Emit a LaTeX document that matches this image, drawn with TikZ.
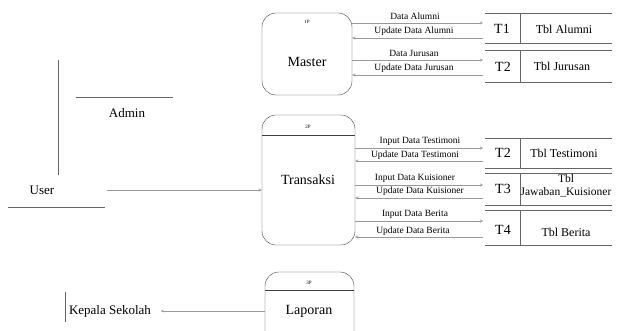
\documentclass[tikz,border=0pt]{standalone}
\usepackage{fontspec}
\setmainfont{Liberation Serif}

\begin{document}
\begin{tikzpicture}[x=1pt,y=-1pt,
  proc/.style={draw=black!75,rounded corners=14pt},
  flow/.style={->,>=stealth,black!40},
  line/.style={black!60},
  pid/.style={font=\fontsize{5}{6}\selectfont},
  ptxt/.style={font=\fontsize{14}{16}\selectfont},
  etxt/.style={font=\fontsize{13}{15}\selectfont},
  small/.style={font=\fontsize{9.5}{11}\selectfont},
  sid/.style={font=\fontsize{14}{16}\selectfont},
  tbl/.style={font=\fontsize{12}{13}\selectfont,align=center}]
  \useasboundingbox (0,0) rectangle (627,331);

  % processes
  \node[proc,minimum width=90pt,minimum height=82pt] (master) at (307,54) {};
  \node[pid] (p1) at (307,22) {1P};
  \node[ptxt] (mastertxt) at (307,62) {Master};

  \node[proc,minimum width=93pt,minimum height=130pt] (transaksi) at (308.5,180) {};
  \draw[black!75] (transaksi.west |- 0,135) -- (transaksi.east |- 0,135);
  \node[pid] (p2) at (308,127) {2P};
  \node[ptxt] (transaksitxt) at (308,180) {Transaksi};

  \node[proc,minimum width=89pt,minimum height=80pt] (laporan) at (309.5,312) {};
  \draw[black!75] (laporan.west |- 0,290) -- (laporan.east |- 0,290);
  \node[pid] (p3) at (309,283) {3P};
  \node[ptxt] (laporantxt) at (309,311) {Laporan};

  % external entities
  \draw[line] (58,60) -- (58,175);
  \draw[line] (76,97) -- (173,97);
  \node[etxt] (admin) at (127,113) {Admin};

  \node[etxt] (user) at (42,190) {User};
  \draw[line] (8,207) -- (105,207);
  \draw[flow] ([xshift=49pt]user.east) -- (transaksi.west |- user);

  \node[etxt] (kepala) at (110,311) {Kepala Sekolah};
  \draw[line] (65,292) -- (65,322);
  \draw[flow] (laporan.west |- kepala) -- ([xshift=6pt]kepala.east);

  % data stores
  \draw[line] (485,13) -- (612,13) (485,43) -- (612,43) (520,13) -- (520,43);
  \node[sid] (t1) at (502,29) {T1};
  \node[tbl] (tbl1) at (564,29) {Tbl Alumni};
  \coordinate (s1) at (483,28);

  \draw[line] (485,50) -- (612,50) (485,82) -- (612,82) (520,50) -- (520,82);
  \node[sid] (t2) at (503,67) {T2};
  \node[tbl] (tbl2) at (562,66) {Tbl Jurusan};
  \coordinate (s2) at (483,66);

  \draw[line] (485,138) -- (612,138) (485,168) -- (612,168) (520,138) -- (520,168);
  \node[sid] (t3) at (503,153) {T2};
  \node[tbl] (tbl3) at (564,153) {Tbl Testimoni};
  \coordinate (s3) at (483,153);

  \draw[line] (485,173) -- (612,173) (485,205) -- (612,205) (520,173) -- (520,205);
  \node[sid] (t4) at (503,189) {T3};
  \node[tbl,font=\fontsize{11.5}{13}\selectfont] (tbl4) at (566,186) {Tbl\\Jawaban\_Kuisioner};
  \coordinate (s4) at (483,188);

  \draw[line] (485,210) -- (612,210) (485,245) -- (612,245) (520,210) -- (520,245);
  \node[sid] (t5) at (503,230) {T4};
  \node[tbl] (tbl5) at (566,232) {Tbl Berita};
  \coordinate (s5) at (483,228);

  % flows master
  \draw[flow] (master.east |- 0,23) -- (s1 |- 0,23);
  \node[small] (f1) at (415,16) {Data Alumni};
  \draw[flow] (s1 |- 0,38) -- (master.east |- 0,38);
  \node[small] (f2) at (414,31) {Update Data Alumni};
  \draw[flow] (master.east |- 0,60) -- (s2 |- 0,60);
  \node[small] (f3) at (414,53) {Data Jurusan};
  \draw[flow] (s2 |- 0,75) -- (master.east |- 0,75);
  \node[small] (f4) at (414,68) {Update Data Jurusan};

  % flows transaksi
  \draw[flow] (transaksi.east |- 0,148) -- (s3 |- 0,148);
  \node[small] (f5) at (420,141) {Input Data Testimoni};
  \draw[flow] (s3 |- 0,161) -- (transaksi.east |- 0,161);
  \node[small] (f6) at (415,155) {Update Data Testimoni};
  \draw[flow] (transaksi.east |- 0,185) -- (s4 |- 0,185);
  \node[small] (f7) at (415,178) {Input Data Kuisioner};
  \draw[flow] (s4 |- 0,198) -- (transaksi.east |- 0,198);
  \node[small] (f8) at (420,191) {Update Data Kuisioner};
  \draw[flow] (transaksi.east |- 0,221) -- (s5 |- 0,221);
  \node[small] (f9) at (415,214) {Input Data Berita};
  \draw[flow] (s5 |- 0,237) -- (transaksi.east |- 0,237);
  \node[small] (f10) at (413,231) {Update Data Berita};
\end{tikzpicture}
\end{document}
